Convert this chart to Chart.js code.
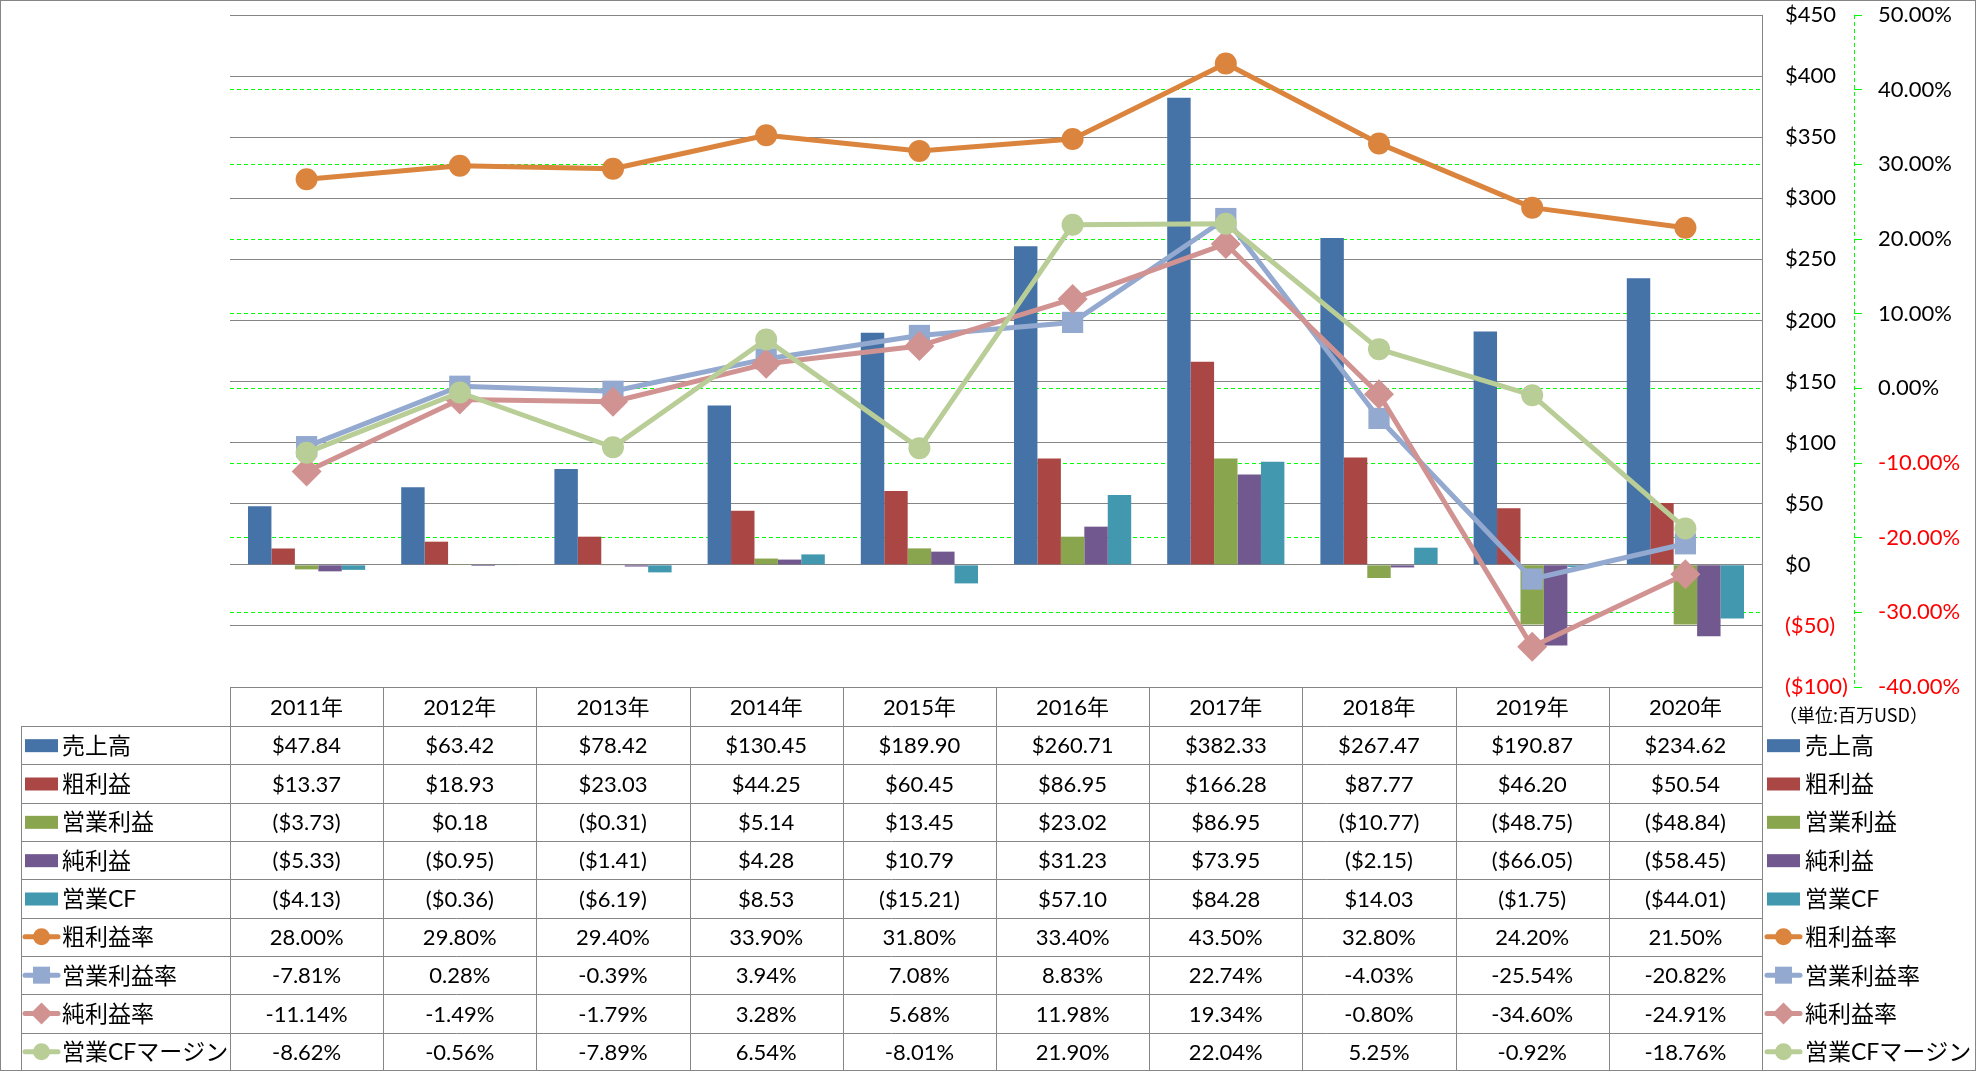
<!DOCTYPE html>
<html>
<head>
<meta charset="utf-8">
<script src="https://cdn.jsdelivr.net/npm/chart.js@4.4.1/dist/chart.umd.min.js"></script>
<style>
  html, body { margin: 0; padding: 0; background: #fff; }
  canvas { display: block; }
</style>
</head>
<body>
<canvas id="chart" width="1976" height="1071"></canvas>
<script>
// 年度
const years = ["2011年", "2012年", "2013年", "2014年", "2015年", "2016年", "2017年", "2018年", "2019年", "2020年"];

// 金額（百万USD）
const sales      = [47.84, 63.42, 78.42, 130.45, 189.90, 260.71, 382.33, 267.47, 190.87, 234.62];
const grossProfit = [13.37, 18.93, 23.03, 44.25, 60.45, 86.95, 166.28, 87.77, 46.20, 50.54];
const opIncome   = [-3.73, 0.18, -0.31, 5.14, 13.45, 23.02, 86.95, -10.77, -48.75, -48.84];
const netIncome  = [-5.33, -0.95, -1.41, 4.28, 10.79, 31.23, 73.95, -2.15, -66.05, -58.45];
const opCF       = [-4.13, -0.36, -6.19, 8.53, -15.21, 57.10, 84.28, 14.03, -1.75, -44.01];

// 比率（%）
const grossMargin = [28.00, 29.80, 29.40, 33.90, 31.80, 33.40, 43.50, 32.80, 24.20, 21.50];
const opMargin    = [-7.81, 0.28, -0.39, 3.94, 7.08, 8.83, 22.74, -4.03, -25.54, -20.82];
const netMargin   = [-11.14, -1.49, -1.79, 3.28, 5.68, 11.98, 19.34, -0.80, -34.60, -24.91];
const cfMargin    = [-8.62, -0.56, -7.89, 6.54, -8.01, 21.90, 22.04, 5.25, -0.92, -18.76];

// 軸の範囲
const usdAxis = { min: -100, max: 450, step: 50 };
const pctAxis = { min: -40, max: 50, step: 10 };

const colors = {
  sales: "#4572A7",
  gross: "#AA4643",
  op: "#89A54E",
  net: "#71588F",
  cf: "#4198AF",
  grossM: "#DB843D",
  opM: "#93A9CF",
  netM: "#D19392",
  cfM: "#B9CD96",
};

const FONT = "Lato, 'Noto Sans CJK JP', sans-serif";
const GRID = "#868686";

const fmtUsd = v => v < 0 ? "($" + (-v).toFixed(2) + ")" : "$" + v.toFixed(2);
const fmtPct = v => v.toFixed(2) + "%";

function bar(label, data, color) {
  return { type: "bar", label, data, backgroundColor: color, borderWidth: 0, yAxisID: "y", order: 10,
           categoryPercentage: 0.765, barPercentage: 1.0 };
}
function line(label, data, color, style, radius, order) {
  return { type: "line", label, data, borderColor: color, backgroundColor: color, borderWidth: 5,
           pointStyle: style, pointRadius: radius, pointHoverRadius: radius, pointBorderWidth: 0,
           borderCapStyle: "round", borderJoinStyle: "round", tension: 0, yAxisID: "y1", order };
}

const datasets = [
  bar("売上高", sales, colors.sales),
  bar("粗利益", grossProfit, colors.gross),
  bar("営業利益", opIncome, colors.op),
  bar("純利益", netIncome, colors.net),
  bar("営業CF", opCF, colors.cf),
  line("粗利益率", grossMargin, colors.grossM, "circle", 11, 4),
  line("営業利益率", opMargin, colors.opM, "rect", 15, 3),
  line("純利益率", netMargin, colors.netM, "rectRot", 15, 2),
  line("営業CFマージン", cfMargin, colors.cfM, "circle", 11, 1),
];

// 表の行（凡例の種類と表示形式）
const tableRows = [
  { ds: 0, kind: "bar", fmt: fmtUsd },
  { ds: 1, kind: "bar", fmt: fmtUsd },
  { ds: 2, kind: "bar", fmt: fmtUsd },
  { ds: 3, kind: "bar", fmt: fmtUsd },
  { ds: 4, kind: "bar", fmt: fmtUsd },
  { ds: 5, kind: "circle", fmt: fmtPct },
  { ds: 6, kind: "rect", fmt: fmtPct },
  { ds: 7, kind: "rectRot", fmt: fmtPct },
  { ds: 8, kind: "circle", fmt: fmtPct },
];

function drawSymbol(ctx, kind, color, x1, x2, y) {
  ctx.save();
  ctx.fillStyle = color;
  ctx.strokeStyle = color;
  if (kind === "bar") {
    ctx.fillRect(x1 + 2, y - 6, x2 - x1 - 4, 13);
  } else {
    const cx = (x1 + x2) / 2;
    ctx.lineWidth = 5;
    ctx.lineCap = "round";
    ctx.beginPath();
    ctx.moveTo(x1 + 2, y);
    ctx.lineTo(x2 - 2, y);
    ctx.stroke();
    ctx.beginPath();
    if (kind === "circle") {
      ctx.arc(cx, y, 8.5, 0, Math.PI * 2);
    } else if (kind === "rect") {
      ctx.rect(cx - 8.5, y - 8.5, 17, 17);
    } else {
      ctx.moveTo(cx - 11, y); ctx.lineTo(cx, y - 11); ctx.lineTo(cx + 11, y); ctx.lineTo(cx, y + 11);
      ctx.closePath();
    }
    ctx.fill();
  }
  ctx.restore();
}

// データテーブル・凡例・枠線
const tablePlugin = {
  id: "dataTable",
  afterDraw(chart) {
    const { ctx, chartArea, scales } = chart;
    const W = chart.width, H = chart.height;
    const x = scales.x, y1 = scales.y1;
    const left = chartArea.left, right = chartArea.right;
    const legendLeft = 21;
    const headTop = chartArea.bottom;
    const rowsTop = headTop + 39;
    const rowH = (H - rowsTop) / tableRows.length;
    const colW = (right - left) / years.length;

    ctx.save();

    // 第2軸の線（緑破線）
    ctx.strokeStyle = "#00FF00";
    ctx.lineWidth = 1;
    ctx.setLineDash([4, 3]);
    ctx.beginPath();
    ctx.moveTo(Math.round(y1.left) + 0.5, chartArea.top);
    ctx.lineTo(Math.round(y1.left) + 0.5, chartArea.bottom);
    ctx.stroke();
    ctx.setLineDash([]);

    // 表の罫線
    ctx.strokeStyle = GRID;
    ctx.lineWidth = 1;
    ctx.beginPath();
    for (let i = 0; i <= years.length; i++) {
      const cx = Math.round(left + i * colW) + 0.5;
      ctx.moveTo(cx, headTop);
      ctx.lineTo(cx, H);
    }
    ctx.moveTo(left, Math.round(headTop) + 0.5);
    ctx.lineTo(right, Math.round(headTop) + 0.5);
    for (let r = 0; r <= tableRows.length; r++) {
      const ry = Math.round(rowsTop + r * rowH) + 0.5;
      ctx.moveTo(legendLeft, ry);
      ctx.lineTo(right, ry);
    }
    ctx.moveTo(legendLeft + 0.5, rowsTop);
    ctx.lineTo(legendLeft + 0.5, H);
    // プロット右端
    ctx.moveTo(Math.round(right) + 0.5, chartArea.top);
    ctx.lineTo(Math.round(right) + 0.5, H);
    ctx.stroke();

    // 外枠
    ctx.strokeRect(0.5, 0.5, W - 1, H - 1);

    // 見出し
    ctx.fillStyle = "#000";
    ctx.textBaseline = "middle";
    ctx.textAlign = "center";
    ctx.font = "22px " + FONT;
    years.forEach((yr, i) => {
      ctx.fillText(yr, x.getPixelForValue(i), (headTop + rowsTop) / 2 + 1);
    });

    // 行
    tableRows.forEach((row, r) => {
      const ds = chart.data.datasets[row.ds];
      const cy = rowsTop + (r + 0.5) * rowH + 1;
      ctx.textAlign = "center";
      ctx.font = "22px " + FONT;
      ctx.fillStyle = "#000";
      ds.data.forEach((v, i) => {
        ctx.fillText(row.fmt(v), x.getPixelForValue(i), cy);
      });
      // 左凡例
      drawSymbol(ctx, row.kind, ds.borderColor || ds.backgroundColor, 23, 60, cy - 1);
      // 右凡例
      drawSymbol(ctx, row.kind, ds.borderColor || ds.backgroundColor, 1765, 1802, cy - 1);
      ctx.textAlign = "left";
      ctx.font = "23px " + FONT;
      ctx.fillStyle = "#000";
      ctx.fillText(ds.label, 62, cy);
      ctx.fillText(ds.label, 1805, cy);
    });

    // 単位
    ctx.textAlign = "left";
    ctx.font = "18px 'Noto Sans CJK JP', sans-serif";
    ctx.fillText("（単位:百万USD）", 1779, 715);

    ctx.restore();
  },
};

const negRed = c => (c.tick && c.tick.value < 0) ? "#FF0000" : "#000000";

function fixWidth(w) {
  return s => { s.width = w; s.paddingTop = 0; s.paddingBottom = 0; };
}

new Chart(document.getElementById("chart"), {
  data: { labels: years, datasets },
  options: {
    responsive: false,
    animation: false,
    devicePixelRatio: 1,
    events: [],
    layout: { padding: { left: 230, top: 15, right: 0, bottom: 384 } },
    font: { family: FONT },
    plugins: { legend: { display: false }, tooltip: { enabled: false } },
    scales: {
      x: { type: "category", display: false, offset: true, grid: { display: false } },
      y: {
        position: "right",
        min: usdAxis.min, max: usdAxis.max,
        afterFit: fixWidth(92),
        ticks: {
          stepSize: usdAxis.step, padding: 23, color: negRed,
          font: { family: FONT, size: 22 },
          callback: v => v < 0 ? "($" + (-v) + ")" : "$" + v,
        },
        grid: { color: GRID, lineWidth: 1, drawTicks: false },
        border: { display: false },
      },
      y1: {
        position: "right",
        min: pctAxis.min, max: pctAxis.max,
        afterFit: fixWidth(122),
        ticks: {
          stepSize: pctAxis.step, padding: 16, color: negRed,
          font: { family: FONT, size: 22 },
          callback: v => v.toFixed(2) + "%",
        },
        grid: {
          color: c => (c.tick && (c.tick.value === pctAxis.max || c.tick.value === pctAxis.min)) ? "rgba(0,0,0,0)" : "#00FF00",
          lineWidth: 1, drawTicks: true, tickLength: 8, tickColor: "#00FF00",
        },
        border: { display: false, dash: [4, 3] },
      },
    },
  },
  plugins: [tablePlugin],
});
</script>
</body>
</html>
